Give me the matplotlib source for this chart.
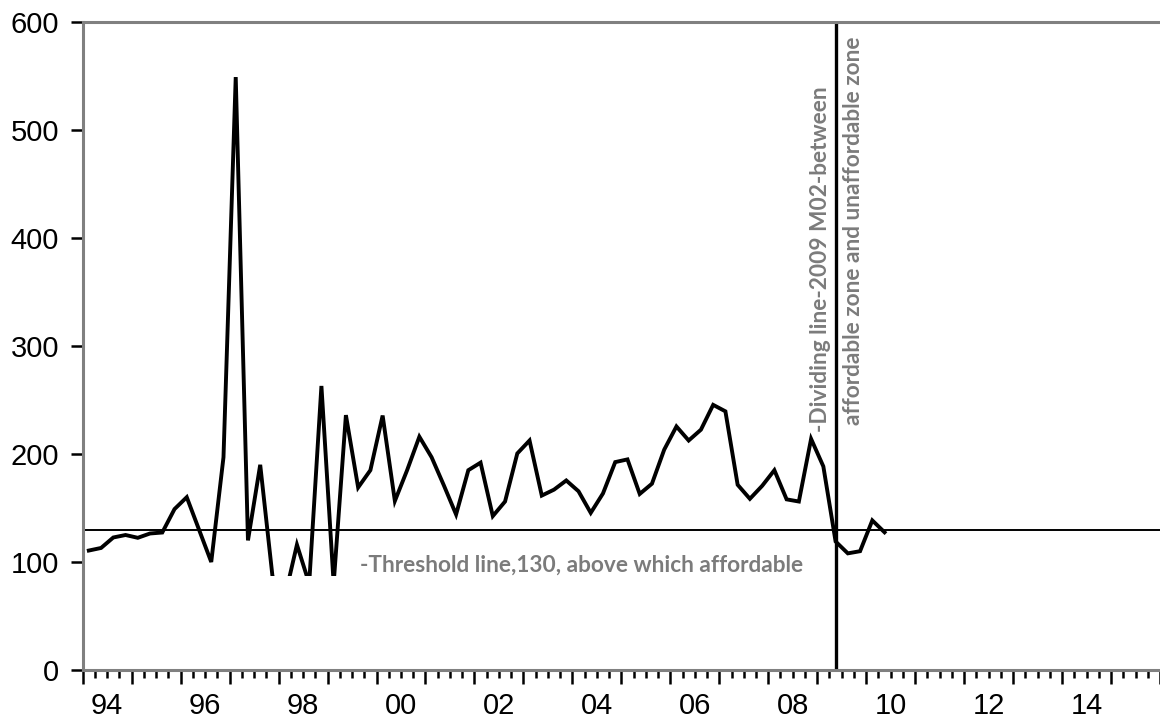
import matplotlib.pyplot as plt
import numpy as np
from matplotlib.patches import Rectangle
from matplotlib.ticker import FixedLocator, NullFormatter

# quarterly affordability index, 1994Q1 .. 2010Q2
start_year = 1994
index_values = [
    110.6, 113.0, 122.7, 125.0,    # 1994
    122.4, 126.4, 127.3, 149.0,    # 1995
    160.0, 130.0, 100.0, 197.0,    # 1996
    549.0, 120.0, 190.0, 87.0,     # 1997
    67.0, 116.0, 80.0, 263.0,      # 1998
    80.0, 236.0, 169.0, 185.0,     # 1999
    235.6, 156.5, 185.0, 216.0,    # 2000
    197.0, 171.0, 144.0, 185.0,    # 2001
    192.0, 142.5, 156.0, 200.5,    # 2002
    212.5, 161.5, 167.0, 175.5,    # 2003
    165.5, 145.5, 163.5, 192.5,    # 2004
    195.0, 163.0, 172.5, 204.0,    # 2005
    225.5, 212.5, 222.5, 245.5,    # 2006
    239.5, 171.5, 158.5, 170.5,    # 2007
    185.0, 158.0, 156.0, 214.0,    # 2008
    188.5, 119.0, 108.0, 110.0,    # 2009
    138.5, 127.5,                  # 2010
]
threshold = 130
divide_year, divide_quarter = 2009, 2

label_years = [1994, 1996, 1998, 2000, 2002, 2004, 2006, 2008, 2010, 2012, 2014]
year_labels = ["94", "96", "98", "00", "02", "04", "06", "08", "10", "12", "14"]
y_ticks = [0, 100, 200, 300, 400, 500, 600]

# observations sit in the middle of their quarter (EViews style)
x = start_year + np.arange(len(index_values)) / 4 + 0.125
divide_x = divide_year + (divide_quarter - 1) / 4 + 0.125

fig = plt.figure(figsize=(11.6, 7.21), dpi=100)
ax = fig.add_axes([82.7 / 1160, 51 / 721, 1 - 82.7 / 1160, 648 / 721])

line, = ax.plot(x, index_values, color="black", lw=2.8, solid_joinstyle="miter")
# the original picture cuts the series off just under 90
clip = Rectangle((1994, 87), 22, 600, transform=ax.transData)
line.set_clip_path(clip)

ax.axhline(threshold, color="black", lw=1.4)
ax.axvline(divide_x, color="black", lw=2.4)

note_font = dict(family="Lato", weight="bold", color="#7b7b7b", fontsize=16.3)
ax.text(1999.66, 97, "-Threshold line,130, above which affordable",
        ha="left", va="center", **note_font)
ax.text(2009.07, 220, "-Dividing line-2009 M02-between", rotation=90,
        ha="center", va="bottom", **note_font)
ax.text(2009.74, 227, "affordable zone and unaffordable zone", rotation=90,
        ha="center", va="bottom", clip_on=True, **note_font)

ax.set_xlim(1994, 2016)
ax.set_ylim(0, 600)
ax.set_yticks(y_ticks)
ax.xaxis.set_major_locator(FixedLocator(range(1994, 2017)))
ax.xaxis.set_minor_locator(FixedLocator(np.arange(1994, 2016.01, 0.25)))
ax.xaxis.set_major_formatter(NullFormatter())

for yr, lbl in zip(label_years, year_labels):
    ax.annotate(lbl, (yr + 0.5, 0), xycoords=("data", "axes fraction"),
                xytext=(0, -32), textcoords="offset points",
                ha="center", va="baseline", fontsize=21, family="Liberation Sans")

ax.tick_params(axis="x", which="major", direction="out", length=10, width=1.8)
ax.tick_params(axis="x", which="minor", direction="out", length=5.5, width=1.8)
ax.tick_params(axis="y", direction="out", length=9, width=1.8, pad=8)
for lab in ax.get_yticklabels():
    lab.set_fontsize(21)
    lab.set_family("Liberation Sans")

for side in ["left", "bottom", "top"]:
    ax.spines[side].set_color("#808080")
    ax.spines[side].set_linewidth(2.2)
ax.spines["right"].set_visible(False)

plt.savefig("out.png", dpi=100)
